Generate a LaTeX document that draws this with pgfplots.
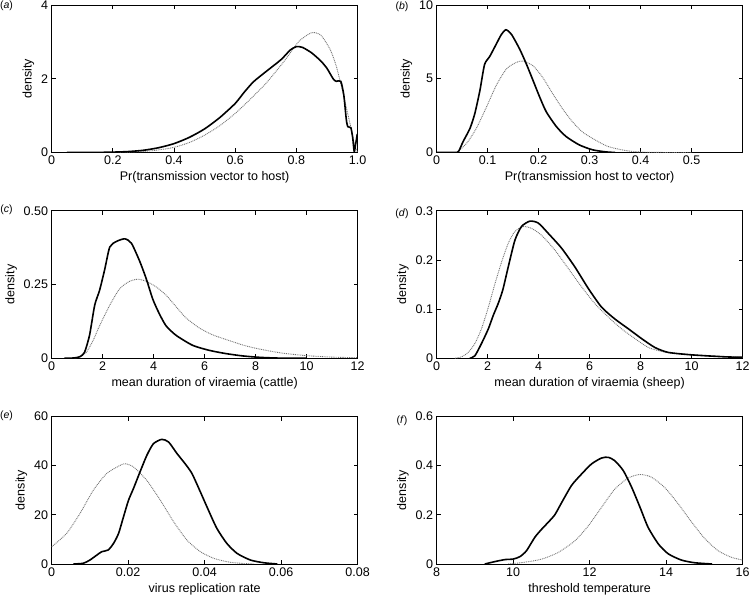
\documentclass[border=0pt]{standalone}
\usepackage{fontspec}
\setmainfont{Liberation Sans}
\usepackage{pgfplots}
\pgfplotsset{compat=1.18}
\pgfplotsset{
  panel/.style={
    scale only axis, width=306pt, height=147.5pt, anchor=south west,
    axis line style={line width=0.9pt},
    every tick/.style={black, line width=0.8pt},
    major tick length=4pt, tick align=inside,
    /pgf/number format/assume math mode=true,
    tick label style={font=\fontsize{12.5}{14}\selectfont},
    label style={font=\fontsize{12.5}{14}\selectfont},
    ylabel={density},
    scaled ticks=false,
    ymin=0,
  },
  sol/.style={black, line width=1.6pt, smooth, tension=0.4, no markers},
  dot/.style={black!55, line width=0.9pt, dash pattern=on 0.9pt off 0.9pt, smooth, tension=0.4, no markers},
}
\begin{document}
\begin{tikzpicture}
\path[use as bounding box] (0,0) rectangle (750pt,602pt);
% (a)
\begin{axis}[panel, at={(51.6pt,449.5pt)}, xmin=0, xmax=1, ymax=4,
  xtick={0,0.2,0.4,0.6,0.8,1}, xticklabels={0,0.2,0.4,0.6,0.8,1.0},
  ytick={0,2,4}, yticklabels={0,2,4},
  xlabel={Pr(transmission vector to host)}]
\addplot[dot] coordinates {(0.2,0) (0.25,0.01) (0.3,0.03) (0.35,0.07) (0.4,0.14) (0.45,0.27) (0.5,0.47) (0.55,0.73) (0.6,1.06) (0.65,1.45) (0.7,1.87) (0.75,2.37) (0.78,2.7) (0.81,3.03) (0.85,3.25) (0.88,3.18) (0.91,2.8) (0.93,2.35) (0.95,1.7) (0.965,1.15) (0.976,0.75) (0.988,0.28) (1.0,0)};
\addplot[sol] coordinates {(0.05,0) (0.15,0.003) (0.2,0.01) (0.25,0.025) (0.3,0.06) (0.35,0.13) (0.4,0.24) (0.45,0.41) (0.5,0.64) (0.55,0.95) (0.6,1.33) (0.63,1.64) (0.66,1.92) (0.7,2.19) (0.75,2.52) (0.78,2.78) (0.8,2.87) (0.82,2.85) (0.85,2.7) (0.88,2.48) (0.9,2.28) (0.92,2.0) (0.93,1.93) (0.945,1.93) (0.955,1.55) (0.963,0.9) (0.968,0.7) (0.978,0.67) (0.984,0.4) (0.989,0.02) (0.994,0.25) (0.999,0.5)};
\end{axis}
% (b)
\begin{axis}[panel, at={(436.6pt,449.5pt)}, xmin=0, xmax=0.6, ymax=10,
  xtick={0,0.1,0.2,0.3,0.4,0.5}, xticklabels={0,0.1,0.2,0.3,0.4,0.5},
  ytick={0,5,10}, yticklabels={0,5,10},
  xlabel={Pr(transmission host to vector)}]
\addplot[dot] coordinates {(0.02,0) (0.039,0.02) (0.059,0.63) (0.078,1.64) (0.098,3.1) (0.117,4.55) (0.137,5.67) (0.156,6.1) (0.169,6.2) (0.189,5.88) (0.208,5.09) (0.228,3.97) (0.247,2.96) (0.267,2.06) (0.286,1.39) (0.312,0.83) (0.335,0.42) (0.36,0.2) (0.38,0.09) (0.4,0.03) (0.43,0.005) (0.5,0)};
\addplot[sol] coordinates {(0,0) (0.036,0) (0.043,0.07) (0.052,0.74) (0.0655,1.64) (0.075,2.65) (0.085,4.22) (0.094,5.96) (0.104,6.5) (0.117,7.35) (0.127,8.0) (0.136,8.32) (0.147,8.0) (0.163,7.0) (0.176,6.0) (0.189,4.89) (0.202,3.77) (0.215,2.76) (0.235,1.75) (0.254,1.08) (0.28,0.51) (0.306,0.18) (0.332,0.04) (0.35,0)};
\end{axis}
% (c)
\begin{axis}[panel, at={(51.6pt,243.7pt)}, xmin=0, xmax=12, ymax=0.5,
  xtick={0,2,4,6,8,10,12}, xticklabels={0,2,4,6,8,10,12},
  ytick={0,0.25,0.5}, yticklabels={0,0.25,0.50},
  xlabel={mean duration of viraemia (cattle)}]
\addplot[dot] coordinates {(0.9,0) (1.1,0.005) (1.36,0.02) (1.62,0.059) (1.88,0.11) (2.28,0.18) (2.67,0.236) (3.06,0.261) (3.39,0.268) (3.71,0.261) (4.1,0.242) (4.49,0.214) (4.88,0.175) (5.27,0.137) (5.79,0.103) (6.3,0.08) (6.9,0.062) (7.5,0.045) (8,0.034) (9,0.018) (10,0.009) (11,0.004) (12,0.002)};
\addplot[sol] coordinates {(0.5,0) (0.85,0.001) (1.1,0.005) (1.29,0.02) (1.49,0.079) (1.69,0.18) (1.88,0.23) (2.08,0.30) (2.28,0.377) (2.54,0.396) (2.87,0.405) (3.13,0.39) (3.45,0.33) (3.71,0.27) (3.97,0.20) (4.23,0.15) (4.49,0.11) (4.88,0.078) (5.53,0.044) (6.18,0.027) (6.83,0.016) (7.5,0.008) (8.2,0.003) (9,0.0005) (10,0)};
\end{axis}
% (d)
\begin{axis}[panel, at={(436.6pt,243.7pt)}, xmin=0, xmax=12, ymax=0.3,
  xtick={0,2,4,6,8,10,12}, xticklabels={0,2,4,6,8,10,12},
  ytick={0,0.1,0.2,0.3}, yticklabels={0,0.1,0.2,0.3},
  xlabel={mean duration of viraemia (sheep)}]
\addplot[dot] coordinates {(0.72,0) (0.98,0.003) (1.24,0.012) (1.5,0.03) (1.76,0.06) (2.03,0.104) (2.29,0.152) (2.55,0.196) (2.81,0.234) (3.07,0.258) (3.4,0.268) (3.73,0.264) (4.12,0.25) (4.64,0.22) (5.16,0.183) (5.69,0.145) (6.21,0.111) (6.73,0.084) (7.25,0.06) (7.78,0.04) (8.3,0.022) (8.82,0.014) (9.35,0.01) (10.65,0.005) (12,0.002)};
\addplot[sol] coordinates {(1.3,0) (1.5,0.005) (1.76,0.03) (2.03,0.06) (2.22,0.087) (2.42,0.112) (2.6,0.14) (2.81,0.186) (3.07,0.24) (3.33,0.268) (3.66,0.279) (3.99,0.275) (4.38,0.254) (4.9,0.224) (5.42,0.186) (5.95,0.142) (6.47,0.104) (6.99,0.08) (7.52,0.06) (8.04,0.04) (8.56,0.022) (9.08,0.012) (10,0.007) (11.3,0.003) (12,0.002)};
\end{axis}
% (e)
\begin{axis}[panel, at={(51.6pt,38pt)}, xmin=0, xmax=0.08, ymax=60,
  xtick={0,0.02,0.04,0.06,0.08}, xticklabels={0,0.02,0.04,0.06,0.08},
  ytick={0,20,40,60}, yticklabels={0,20,40,60},
  xlabel={virus replication rate}]
\addplot[dot] coordinates {(0,7) (0.0039,12.4) (0.0074,20.5) (0.0109,30) (0.0144,36.8) (0.0179,40.1) (0.0192,40.8) (0.0214,39.5) (0.0249,34) (0.0284,26) (0.0319,17.2) (0.0354,9.7) (0.0389,5) (0.0424,2.3) (0.0459,0.9) (0.0493,0.3) (0.053,0)};
\addplot[sol] coordinates {(0.0057,0) (0.0083,0.3) (0.01,1.6) (0.0118,3.6) (0.0131,5) (0.0148,5.7) (0.0162,8.4) (0.0175,12.4) (0.0188,19.2) (0.0201,25.9) (0.0214,30.7) (0.0231,37.4) (0.0249,44.2) (0.0266,48.9) (0.0288,50.7) (0.0306,49.6) (0.0328,44.9) (0.0349,40.8) (0.0367,36.8) (0.0389,29.3) (0.041,21.9) (0.0432,14.5) (0.0458,8.4) (0.0485,4.3) (0.052,1.6) (0.0555,0.5) (0.059,0)};
\end{axis}
% (f)
\begin{axis}[panel, at={(436.6pt,38pt)}, xmin=8, xmax=16, ymax=0.6,
  xtick={8,10,12,14,16}, xticklabels={8,10,12,14,16},
  ytick={0,0.2,0.4,0.6}, yticklabels={0,0.2,0.4,0.6},
  xlabel={threshold temperature}]
\addplot[dot] coordinates {(9.87,0) (10.3,0.007) (10.75,0.02) (11.18,0.047) (11.62,0.095) (11.97,0.156) (12.31,0.23) (12.66,0.305) (13.01,0.35) (13.32,0.364) (13.62,0.353) (13.97,0.31) (14.32,0.244) (14.67,0.17) (15.02,0.102) (15.36,0.054) (15.71,0.027) (16,0.016)};
\addplot[sol] coordinates {(9.26,0) (9.53,0.01) (9.79,0.018) (10.0,0.02) (10.18,0.03) (10.35,0.054) (10.57,0.109) (10.75,0.142) (10.92,0.17) (11.09,0.2) (11.27,0.25) (11.53,0.32) (11.79,0.366) (12.05,0.407) (12.31,0.431) (12.49,0.434) (12.66,0.42) (12.88,0.38) (13.1,0.312) (13.32,0.23) (13.53,0.149) (13.8,0.081) (14.06,0.041) (14.4,0.016) (14.75,0.005) (15.2,0)};
\end{axis}
\begin{scope}[every node/.style={font=\fontsize{10.5}{12}\selectfont, inner sep=0pt}]
\node at (6.5pt,596pt) {(\textit{a})};
\node at (402pt,595pt) {(\textit{b})};
\node at (6.5pt,392pt) {(\textit{c})};
\node at (402pt,388pt) {(\textit{d})};
\node at (6.5pt,186pt) {(\textit{e})};
\node at (402pt,181pt) {(\textit{f})};
\end{scope}
\end{tikzpicture}
\end{document}
